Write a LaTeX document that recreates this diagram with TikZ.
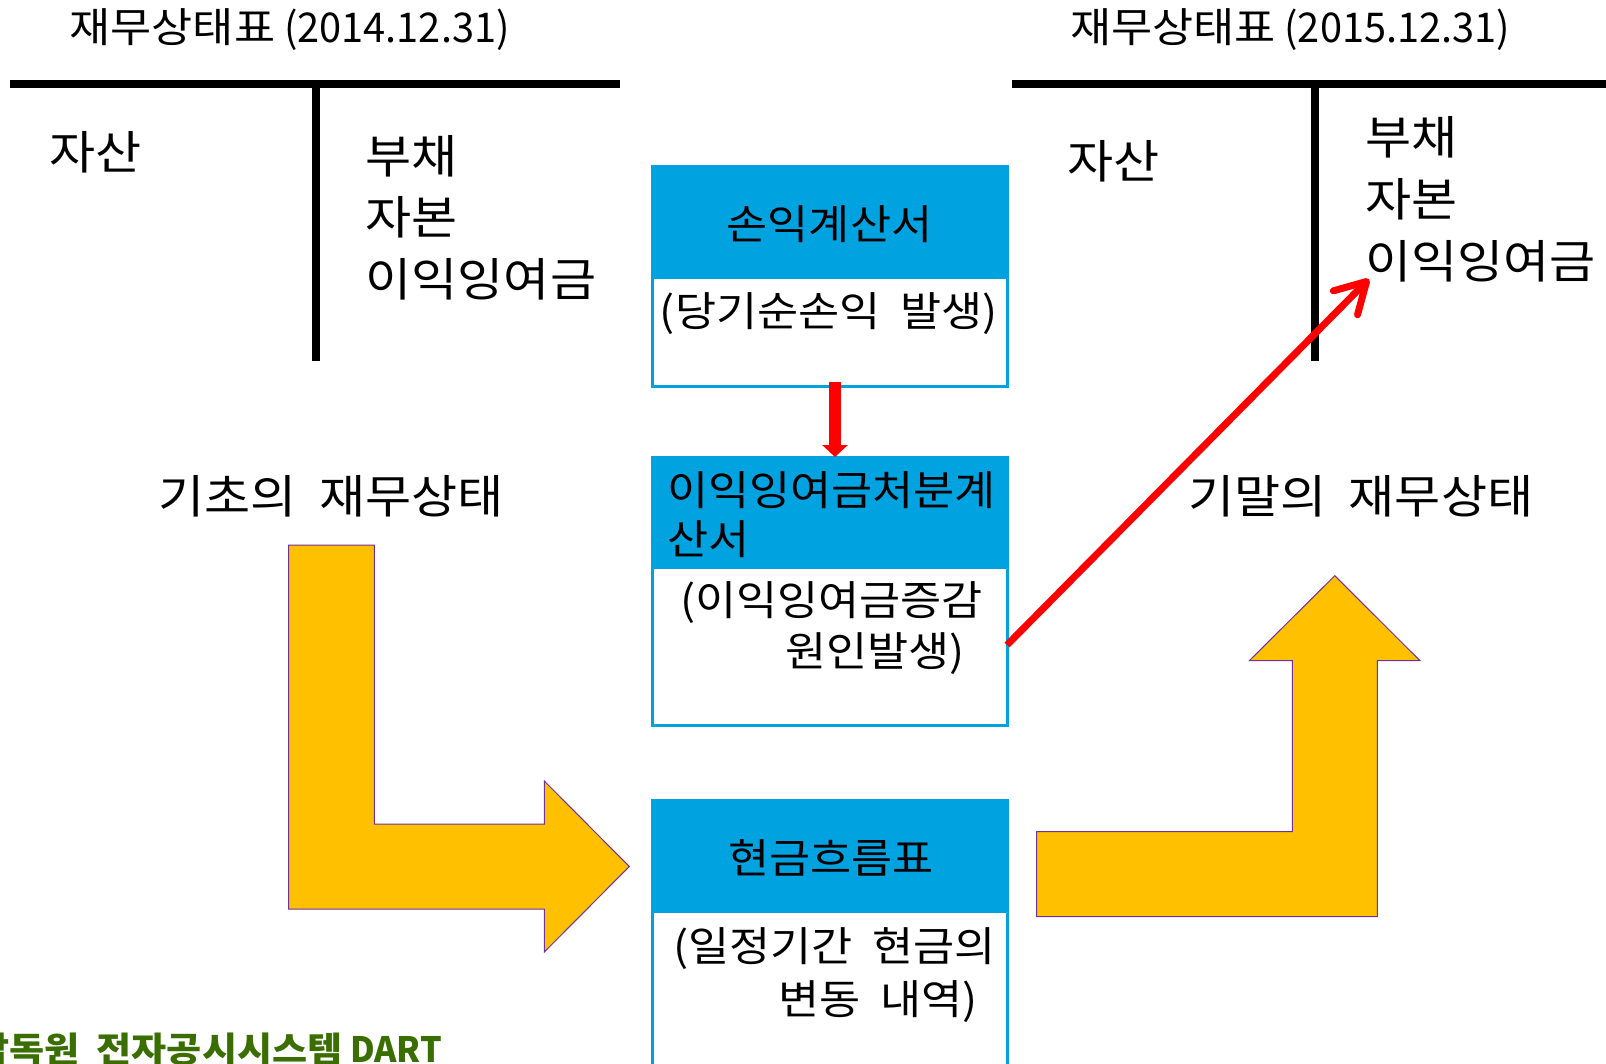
\documentclass[tikz,border=0pt]{standalone}
\usepackage{fontspec}
\setmainfont{Noto Sans CJK KR}[WordSpace=2,FakeStretch=1.09]
\newfontfamily\latfont{Noto Sans CJK KR}[FakeStretch=0.97]
\usetikzlibrary{arrows.meta,calc}
\definecolor{boxblue}{RGB}{0,162,224}
\definecolor{arrowfill}{RGB}{255,192,0}
\definecolor{arrowline}{RGB}{112,48,160}
\definecolor{dartgreen}{RGB}{58,110,0}
\newcommand{\ttlfont}{\fontsize{20.5pt}{24pt}\selectfont}
\newcommand{\bigfont}{\fontsize{23pt}{27pt}\selectfont}
\newcommand{\boxfont}{\fontsize{20.5pt}{24pt}\selectfont}
\newcommand{\dartfont}{\fontsize{17.5pt}{20pt}\selectfont\bfseries}
\tikzset{
  txt/.style={inner sep=0pt, outer sep=0pt},
  tline/.style={line width=4pt, black},
  frame/.style={draw=boxblue, line width=1.5pt, inner sep=0pt, outer sep=0pt},
  bentarrow/.style={fill=arrowfill, draw=arrowline, line width=0.5pt},
  redv/.style={draw=red, line width=6pt, -{Triangle[length=6pt,width=12.5pt]}},
  redd/.style={draw=red, line width=3.5pt, -{Straight Barb[length=15pt,width=17pt,round]}}
}
\begin{document}
\begin{tikzpicture}[x=0.5pt,y=-0.5pt]
\useasboundingbox (0,0) rectangle (1606,1064);
\clip (0,0) rectangle (1606,1064);
% T accounts
\draw[tline] (10,84) -- (620,84);
\draw[tline] (315.5,84) -- (315.5,361);
\draw[tline] (1012,84) -- (1606,84);
\draw[tline] (1315,84) -- (1315,361);
\node[txt, anchor=west, font=\ttlfont] (title1) at (69.6,30) {재무상태표{\latfont{} (2014.12.31)}};
\node[txt, anchor=west, font=\ttlfont] (title2) at (1070,30) {재무상태표{\latfont{} (2015.12.31)}};
\node[txt, anchor=west, font=\bigfont] (asset1) at (49,152) {자산};
\node[txt, anchor=west, font=\bigfont] (liab1) at (365.6,156) {부채};
\node[txt, anchor=west, font=\bigfont] (cap1) at (365.6,217) {자본};
\node[txt, anchor=west, font=\bigfont] (re1) at (365.6,279) {이익잉여금};
\node[txt, anchor=west, font=\bigfont] (asset2) at (1067,161) {자산};
\node[txt, anchor=west, font=\bigfont] (liab2) at (1365,137) {부채};
\node[txt, anchor=west, font=\bigfont] (cap2) at (1365,199) {자본};
\node[txt, anchor=west, font=\bigfont] (re2) at (1365,261) {이익잉여금};
\node[txt, anchor=west, font=\bigfont] (begin) at (158.7,496) {기초의 재무상태};
\node[txt, anchor=west, font=\bigfont] (finish) at (1188,496) {기말의 재무상태};
% boxes
\node[frame, minimum width=177.5pt, minimum height=109.5pt] (box1) at (829.5,276.5) {};
\fill[boxblue] (box1.north west) rectangle ($(box1.north east)+(0,112.5)$);
\node[txt, font=\boxfont] (h1) at (829.5,224) {손익계산서};
\node[txt, font=\boxfont] (b1) at (829,314) {(당기순손익 발생)};
\node[frame, minimum width=177.5pt, minimum height=134pt] (box2) at (829.5,591) {};
\fill[boxblue] (box2.north west) rectangle ($(box2.north east)+(0,111.5)$);
\node[txt, anchor=west, font=\boxfont] (h2a) at (667,490) {이익잉여금처분계};
\node[txt, anchor=west, font=\boxfont] (h2b) at (667,539) {산서};
\node[txt, anchor=west, font=\boxfont] (b2a) at (680,603) {(이익잉여금증감};
\node[txt, anchor=west, font=\boxfont] (b2b) at (785,654) {원인발생)};
\node[frame, minimum width=177.5pt, minimum height=150pt] (box3) at (829.5,950) {};
\fill[boxblue] (box3.north west) rectangle ($(box3.north east)+(0,112.7)$);
\node[txt, font=\boxfont] (h3) at (831,858) {현금흐름표};
\node[txt, anchor=west, font=\boxfont] (b3a) at (673,949) {(일정기간 현금의};
\node[txt, anchor=west, font=\boxfont] (b3b) at (778,1002) {변동 내역)};
% bent arrows
\draw[bentarrow] (288.7,545) -- (374.3,545) -- (374.3,824) -- (544.3,824) -- (544.3,781)
  -- (629.3,866.5) -- (544.3,952) -- (544.3,909) -- (288.7,909) -- cycle;
\draw[bentarrow] (1036.7,831.7) -- (1292.3,831.7) -- (1292.3,660.7) -- (1249.3,660.7)
  -- (1334.8,575.7) -- (1420,660.7) -- (1377.3,660.7) -- (1377.3,916.7) -- (1036.7,916.7) -- cycle;
% footer
\node[txt, anchor=east, font=\dartfont, text=dartgreen] (dart) at (442,1049) {감독원 전자공시시스템{\latfont\bfseries{} DART}};
% red arrows
\coordinate (retip) at (1369,279);
\draw[redv] ([xshift=2.75pt,yshift=2pt]box1.south) -- ([xshift=2.75pt]box2.north);
\draw[redd] ([yshift=-27pt]box2.east) -- (retip);
\end{tikzpicture}
\end{document}
